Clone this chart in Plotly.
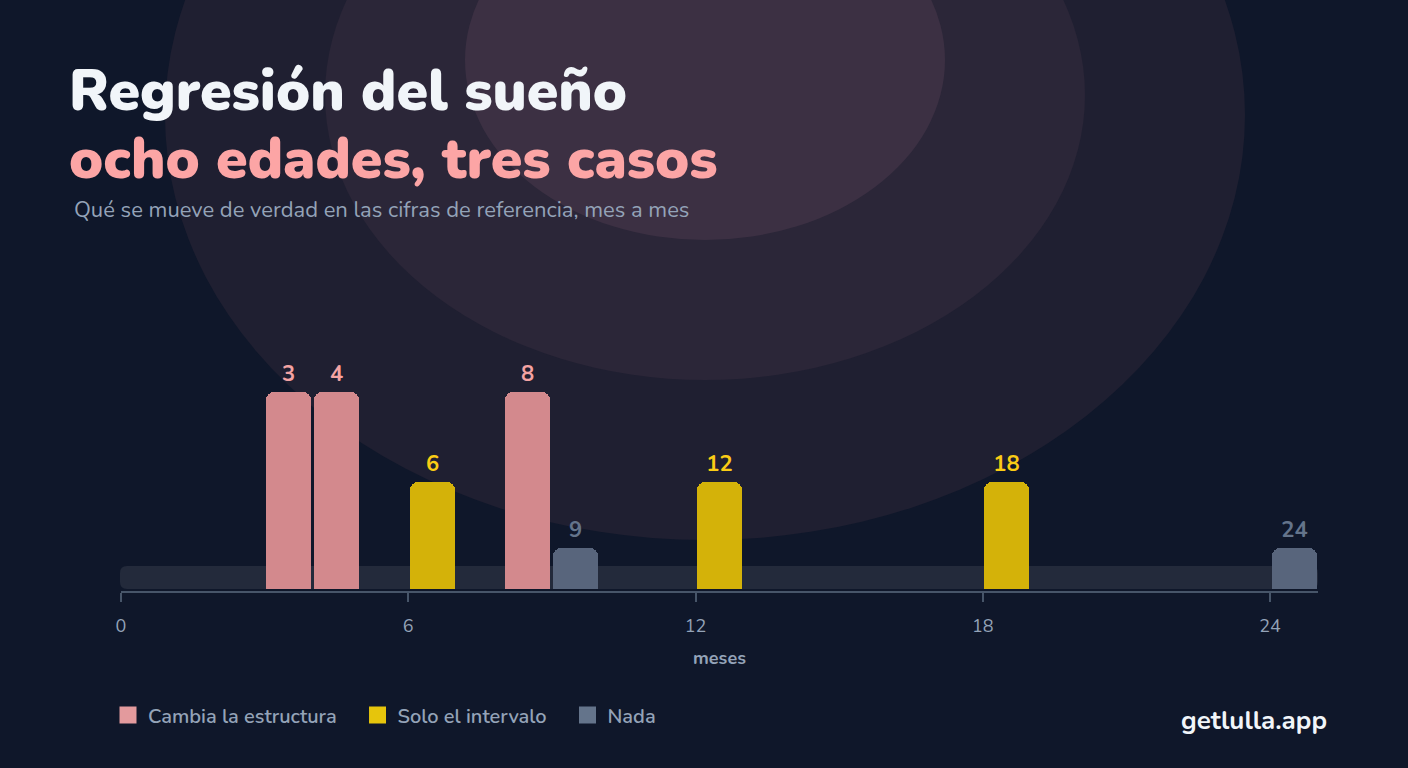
import plotly.graph_objects as go

# ---------------- data ----------------
categories = ["Cambia la estructura", "Solo el intervalo", "Nada"]
months = {
    "Cambia la estructura": [3, 4, 8],
    "Solo el intervalo": [6, 12, 18],
    "Nada": [9, 24],
}
# relative height per case
level = {"Cambia la estructura": 1.0, "Solo el intervalo": 0.545, "Nada": 0.21}
tick_vals = [0, 6, 12, 18, 24]

bar_colors = {"Cambia la estructura": "#d3898d", "Solo el intervalo": "#d4b209", "Nada": "#58657c"}
legend_colors = {"Cambia la estructura": "#e39a9d", "Solo el intervalo": "#e6c50c", "Nada": "#64748b"}
label_colors = {"Cambia la estructura": "#f4a3a3", "Solo el intervalo": "#facc15", "Nada": "#64748b"}

W, H = 1408, 768
BG = "#0f172a"
FONT = "Nunito, Lato, 'Open Sans', sans-serif"
NBSP = "\u00a0"

def px(x):
    return x / W

def py(y):
    return 1 - y / H

fig = go.Figure()

for c in categories:
    m = months[c]
    fig.add_trace(go.Bar(
        x=[v + 0.5 for v in m],
        y=[level[c]] * len(m),
        width=0.94,
        name=c,
        showlegend=False,
        marker=dict(color=bar_colors[c], line=dict(width=0)),
        text=[str(v) for v in m],
        textposition="outside",
        textfont=dict(color=label_colors[c], size=22, family=FONT, weight=700),
        cliponaxis=False,
        hoverinfo="skip",
    ))

# legend entries (same categories, bigger square swatches)
for i, c in enumerate(categories):
    pad = NBSP * 3 if i < len(categories) - 1 else ""
    fig.add_trace(go.Scatter(
        x=[None], y=[None], mode="markers", name=c + pad,
        marker=dict(symbol="square", size=15, color=legend_colors[c],
                    line=dict(width=2, color=legend_colors[c])),
        hoverinfo="skip",
    ))

shapes = []
# background glow ellipses
for (cx, cy, rx, ry, col) in [
    (705, 115, 540, 425, "#1f1f31"),
    (705, 95, 380, 285, "#2b2638"),
    (705, 60, 240, 180, "#3c3043"),
]:
    shapes.append(dict(type="circle", xref="paper", yref="paper",
                       x0=px(cx - rx), x1=px(cx + rx), y0=py(cy + ry), y1=py(cy - ry),
                       fillcolor=col, line=dict(width=0), layer="below"))

# track (rounded rect) behind bars
def rrect(x0, y0, x1, y1, r):
    return (f"M {px(x0 + r)},{py(y0)} L {px(x1 - r)},{py(y0)} "
            f"Q {px(x1)},{py(y0)} {px(x1)},{py(y0 + r)} "
            f"L {px(x1)},{py(y1 - r)} Q {px(x1)},{py(y1)} {px(x1 - r)},{py(y1)} "
            f"L {px(x0 + r)},{py(y1)} Q {px(x0)},{py(y1)} {px(x0)},{py(y1 - r)} "
            f"L {px(x0)},{py(y0 + r)} Q {px(x0)},{py(y0)} {px(x0 + r)},{py(y0)} Z")

shapes.append(dict(type="path", xref="paper", yref="paper", path=rrect(120, 566, 1318, 589, 7),
                   fillcolor="#232a3b", line=dict(width=0), layer="below"))

title_text = ("<span style='font-size:57px'>Regresión del sueño</span><br>"
              "<span style='font-size:57px;color:#fca5a5'>ocho edades, tres casos</span>")

annotations = [
    dict(text=title_text, x=px(67), y=py(125), xref="paper", yref="paper",
         xanchor="left", yanchor="middle", align="left", showarrow=False,
         font=dict(family=FONT, size=52, color="#f1f5f9", weight=900)),
    dict(text="Qué se mueve de verdad en las cifras de referencia, mes a mes", x=px(72), y=py(210),
         xref="paper", yref="paper", xanchor="left", yanchor="middle", showarrow=False,
         font=dict(family=FONT, size=22, color="#94a3b8")),
    dict(text="getlulla.app", x=px(1329), y=py(720), xref="paper", yref="paper",
         xanchor="right", yanchor="middle", showarrow=False,
         font=dict(family=FONT, size=26, color="#f1f5f9", weight=700)),
]

fig.update_layout(
    width=W, height=H,
    margin=dict(l=0, r=0, t=0, b=0, autoexpand=False),
    paper_bgcolor=BG, plot_bgcolor="rgba(0,0,0,0)",
    barcornerradius=8,
    showlegend=True,
    legend=dict(orientation="h", x=px(108), y=py(715), xanchor="left", yanchor="middle",
                font=dict(family=FONT, size=20, color="#94a3b8", weight=600),
                bgcolor="rgba(0,0,0,0)", itemwidth=30, traceorder="normal",
                itemsizing="trace"),
    shapes=shapes,
    annotations=annotations,
    xaxis=dict(domain=[px(121), px(1318)], range=[0, 25], anchor="free", position=py(592),
               showgrid=False, zeroline=False, showline=True, linecolor="#475569", linewidth=2,
               ticks="outside", ticklen=9, tickwidth=2, tickcolor="#475569",
               tickvals=tick_vals, ticktext=[str(t) for t in tick_vals],
               ticklabelstandoff=8,
               tickfont=dict(family=FONT, size=18, color="#94a3b8"),
               title=dict(text="meses", standoff=14,
                          font=dict(family=FONT, size=18, color="#94a3b8", weight=700))),
    yaxis=dict(domain=[py(589), py(392)], range=[0, 1], visible=False, fixedrange=True),
    bargap=0,
)

fig.write_html("out.html")
